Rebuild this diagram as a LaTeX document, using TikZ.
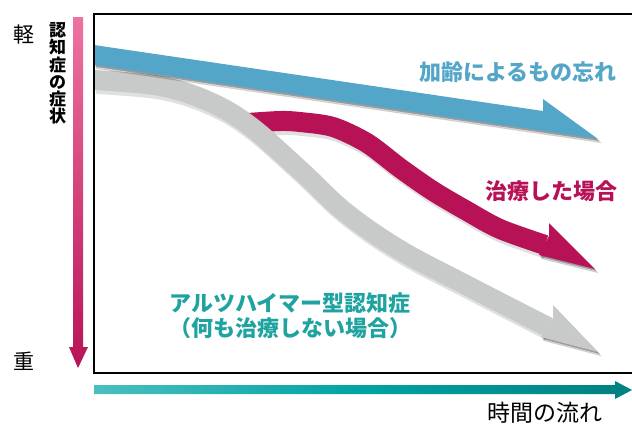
\documentclass[tikz,border=0pt]{standalone}
\usepackage{fontspec}
\newfontfamily\jpfont{Noto Sans CJK JP}
\usepackage{tikz}

\definecolor{agingblue}{HTML}{54A6C8}
\definecolor{treatred}{HTML}{B81257}
\definecolor{untreatgray}{HTML}{C8C9C9}
\definecolor{alzteal}{HTML}{1FA3A0}
\definecolor{sympink}{HTML}{EE73A0}
\definecolor{timelight}{HTML}{4ABFBE}
\definecolor{timemid}{HTML}{00A3A3}
\definecolor{timedark}{HTML}{00807F}

\begin{document}
\begin{tikzpicture}[x=1pt, y=-1pt,
		band/.style={draw=#1, line width=20pt},
		bandshadow/.style={
			preaction={draw=black, draw opacity=0.12, line width=21pt, transform canvas={shift={(2.5pt,-3.5pt)}}},
			preaction={draw=black, draw opacity=0.30, transform canvas={shift={(1.5pt,-2pt)}}}},
		headshadow/.style={
			preaction={fill=black, fill opacity=0.12, draw=black, draw opacity=0.12, line width=1pt, transform canvas={shift={(2.5pt,-3.5pt)}}},
			preaction={fill=black, fill opacity=0.30, transform canvas={shift={(1.5pt,-2pt)}}}},
		lbl/.style={font=\jpfont\bfseries\fontsize{22}{25}\selectfont, text=#1, inner sep=0pt},
		side/.style={font=\jpfont\fontsize{#1}{#1}\selectfont, inner sep=0pt}
		]
		\useasboundingbox (0,0) rectangle (632,424);
		
		% Treated case (starts under the gray band)
		\draw[band=treatred, bandshadow] plot[smooth, tension=0.5] coordinates {(248,123) (280,121) (300,122) (333,127) (367,143) (400,168) (433,191) (467,211) (500,229) (545,245)};
		\fill[treatred, headshadow] (549,236) -- (549,223) -- (595,269) -- (539,255) -- cycle;
		
		% Untreated Alzheimer's
		\draw[band=untreatgray, bandshadow] plot[smooth, tension=0.6] coordinates {(94,80) (160,86) (210,102) (250,126) (300,170) (345,212) (400,250) (470,287) (548,327)};
		\fill[untreatgray, headshadow] (553,318) -- (553,305) -- (598,352) -- (541,337) -- cycle;
		
		% Aging
		\fill[agingblue, headshadow] (94,45) -- (543,111) -- (543,99) -- (598,139) -- (94,65) -- cycle;
		
		% Labels
		\node[lbl=agingblue] (aging)   at (518,72)  {加齢によるもの忘れ};
		\node[lbl=treatred]  (treated) at (551,191) {治療した場合};
		\node[lbl=alzteal, align=center] (alz) at (290,316) {アルツハイマー型認知症\\（何も治療しない場合）};
		
		% Axes
		\shade[top color=sympink, bottom color=treatred] (73,17) -- (83,17) -- (83,347) -- (88,347) -- (78,368) -- (69,347) -- (73,347) -- cycle;
		\shade[left color=timelight, right color=timedark, middle color=timemid] (94,385) -- (615,385) -- (615,381) -- (632,390) -- (615,399) -- (615,394) -- (94,394) -- cycle;
		\node[side=21] (light) at (24,35)  {軽};
		\node[side=21] (heavy) at (24,361) {重};
		\node[font=\jpfont\bfseries\fontsize{17}{17.2}\selectfont, align=center, inner sep=0pt] (symptom) at (57.5,73.5) {認\\知\\症\\の\\症\\状};
		\node[side=23] (time) at (545,413) {時間の流れ};
		
		% Frame
		\draw[line width=2pt] (632,14) -- (94,14) -- (94,373) -- (632,373);
	\end{tikzpicture}
\end{document}
